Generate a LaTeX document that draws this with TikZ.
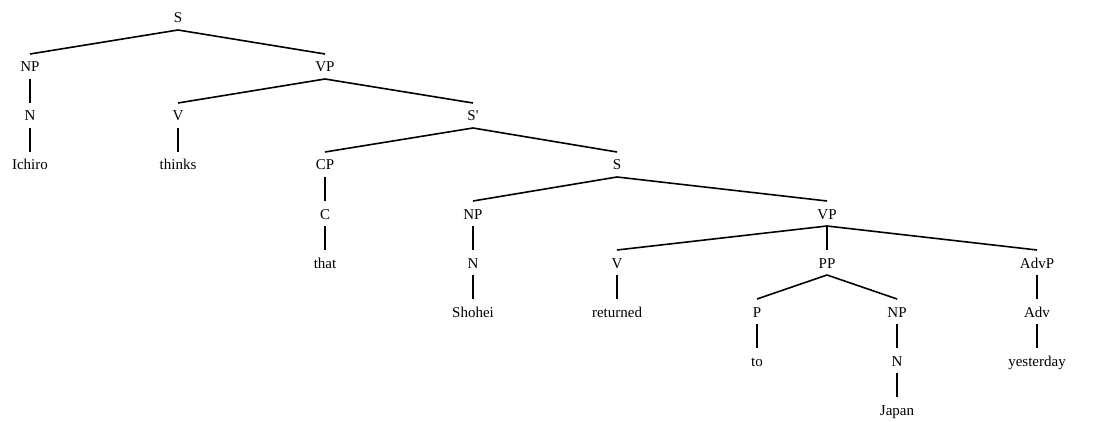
\documentclass[tikz,border=0pt]{standalone}
\usepackage{fontspec}
\setmainfont{Liberation Serif}
\begin{document}
\begin{tikzpicture}[x=1pt,y=-1pt,
  lab/.style={anchor=base,inner sep=0pt,font=\fontsize{15}{18}\selectfont},
  edge/.style={line width=1.6pt}]
\useasboundingbox (0,0) rectangle (1097,422);
\def\bl{5}
% nodes (x, level centre + baseline offset)
\node[lab] (S)   at (178,18+\bl) {S};
\node[lab] (NP)  at (30,67+\bl) {NP};
\node[lab] (VP)  at (325,67+\bl) {VP};
\node[lab] (N)   at (30,116+\bl) {N};
\node[lab] (V)   at (178,116+\bl) {V};
\node[lab] (Sb)  at (473,116+\bl) {S\textquotesingle};
\node[lab] (ich) at (30,165+\bl) {Ichiro};
\node[lab] (thk) at (178,165+\bl) {thinks};
\node[lab] (CP)  at (325,165+\bl) {CP};
\node[lab] (S2)  at (617,165+\bl) {S};
\node[lab] (C)   at (325,214+\bl) {C};
\node[lab] (NP2) at (473,214+\bl) {NP};
\node[lab] (VP2) at (827,214+\bl) {VP};
\node[lab] (tht) at (325,263+\bl) {that};
\node[lab] (N2)  at (473,263+\bl) {N};
\node[lab] (V2)  at (617,263+\bl) {V};
\node[lab] (PP)  at (827,263+\bl) {PP};
\node[lab] (AdvP) at (1037,263+\bl) {AdvP};
\node[lab] (sho) at (473,312+\bl) {Shohei};
\node[lab] (ret) at (617,312+\bl) {returned};
\node[lab] (P)   at (757,312+\bl) {P};
\node[lab] (NP3) at (897,312+\bl) {NP};
\node[lab] (Adv) at (1037,312+\bl) {Adv};
\node[lab] (to)  at (757,361+\bl) {to};
\node[lab] (N3)  at (897,361+\bl) {N};
\node[lab] (yst) at (1037,361+\bl) {yesterday};
\node[lab] (jap) at (897,410+\bl) {Japan};
% edges: from 12px below parent centre to 13px above child centre
\newcommand{\br}[2]{\draw[edge] ([yshift={-(12-\bl)*1pt}]#1.base) -- ([yshift={(13+\bl)*1pt}]#2.base);}
\br{S}{NP}\br{S}{VP}
\br{NP}{N}\br{N}{ich}
\br{VP}{V}\br{VP}{Sb}
\br{V}{thk}
\br{Sb}{CP}\br{Sb}{S2}
\br{CP}{C}\br{C}{tht}
\br{S2}{NP2}\br{S2}{VP2}
\br{NP2}{N2}\br{N2}{sho}
\br{VP2}{V2}\br{VP2}{PP}\br{VP2}{AdvP}
\br{V2}{ret}
\br{PP}{P}\br{PP}{NP3}
\br{P}{to}
\br{NP3}{N3}\br{N3}{jap}
\br{AdvP}{Adv}\br{Adv}{yst}
\end{tikzpicture}
\end{document}
